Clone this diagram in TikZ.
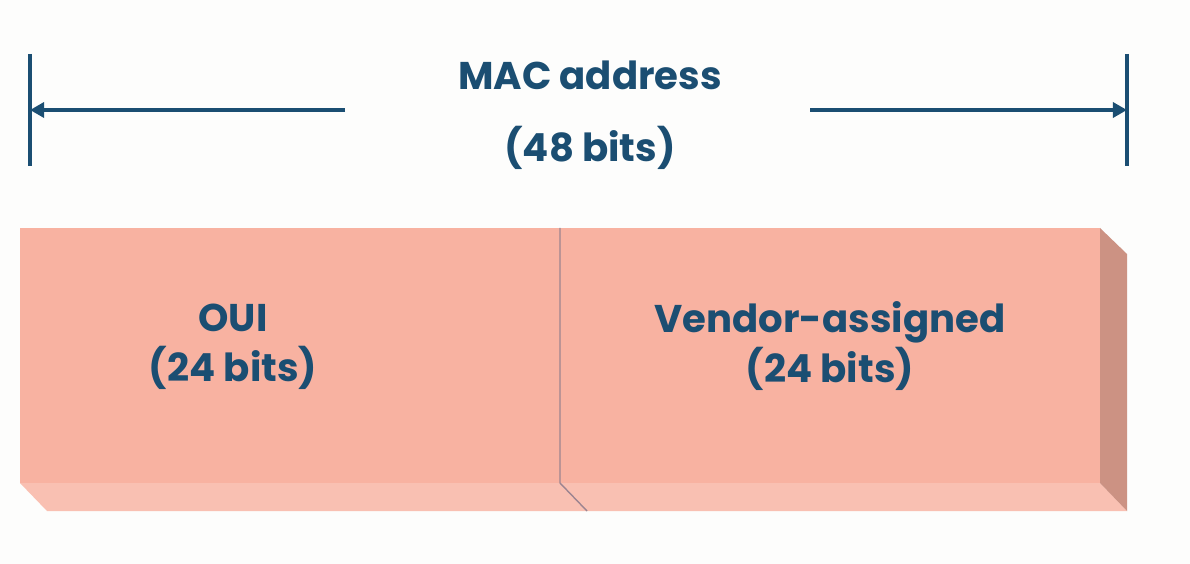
\documentclass[tikz,border=0pt]{standalone}
\usepackage{xcolor}
\usepackage{fontspec}
\setmainfont{Poppins}
\usepackage{tikz}
\usetikzlibrary{arrows.meta, positioning}

\definecolor{macblue}{HTML}{1B4E72}
\definecolor{boxfront}{HTML}{F8B2A1}
\definecolor{boxbottom}{HTML}{F9C0B2}
\definecolor{boxside}{HTML}{CC9283}
\definecolor{boxedge}{HTML}{9C8490}
\definecolor{paper}{HTML}{FDFDFC}

\begin{document}
\begin{tikzpicture}
  [
    x=0.02cm, y=-0.02cm,
    Label/.style={text=macblue, font=\fontsize{22}{28.5}\selectfont\bfseries, align=center},
    Tick/.style={draw=macblue, line width=2.2pt},
    Span/.style={draw=macblue, line width=2.2pt, -{Triangle[length=8pt, width=8.5pt]}}
  ]
  % Background and bounds
  \fill[paper] (0,0) rectangle (1190,564);
  \useasboundingbox (0,0) rectangle (1190,564);

  % Box faces (x, y in pixels)
  \fill[boxbottom] (20,483) -- (47,511) -- (1127,511) -- (1100,483) -- cycle;
  \fill[boxside] (1100,228) -- (1127,254) -- (1127,511) -- (1100,483) -- cycle;
  \fill[boxfront] (20,228) rectangle (1100,483);
  \draw[boxedge, thick] (560,228) -- (560,483) -- (587,511);

  % Nodes (x, y)
  \node[Label] (mac) at (590, 75) {MAC address};
  \node[Label] (bits) at (590, 148) {(48 bits)};
  \node[Label] (oui) at (233, 347) {OUI\\(24 bits)};
  \node[Label] (vendor) at (830, 346) {Vendor-assigned\\(24 bits)};

  \coordinate (lt) at (30, 54);
  \coordinate (lb) at (30, 166);
  \coordinate (rt) at (1127, 54);
  \coordinate (rb) at (1127, 166);
  \coordinate (lmid) at (30, 110);
  \coordinate (rmid) at (1127, 110);
  \coordinate (lstart) at (345, 110);
  \coordinate (rstart) at (810, 110);

  % Lines
  % left tick
  \path [Tick] (lt) -- (lb);
  % right tick
  \path [Tick] (rt) -- (rb);
  % span to the left
  \path [Span] (lstart) -- (lmid);
  % span to the right
  \path [Span] (rstart) -- (rmid);

\end{tikzpicture}
\end{document}
